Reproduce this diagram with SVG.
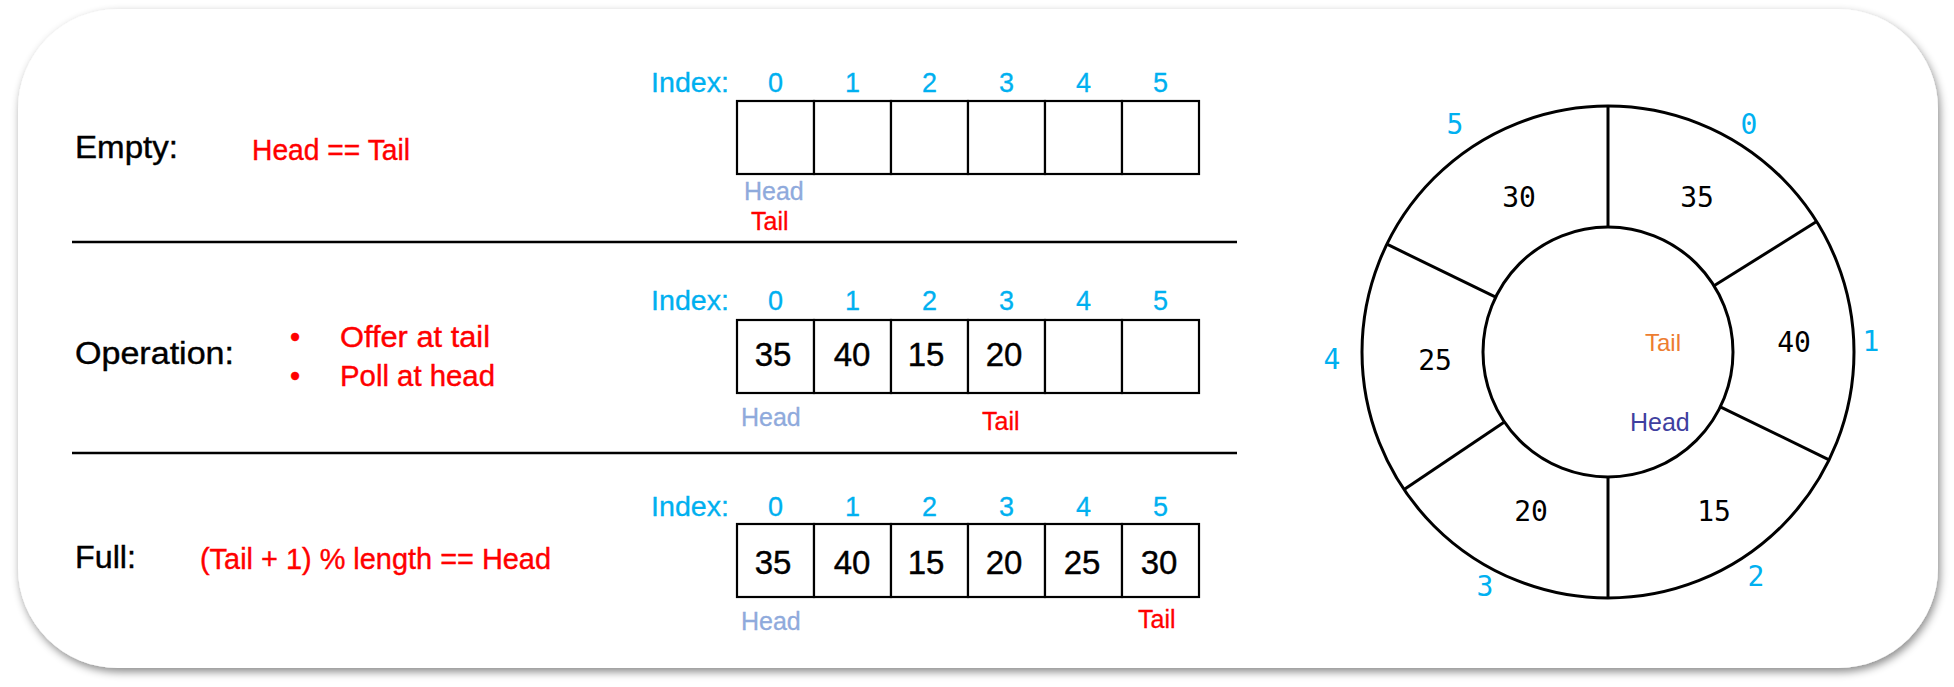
<svg xmlns="http://www.w3.org/2000/svg" width="1954" height="687" viewBox="0 0 1954 687">
<defs>
<filter id="sh" x="-5%" y="-5%" width="110%" height="115%">
<feDropShadow dx="2" dy="4" stdDeviation="4" flood-color="#000" flood-opacity="0.45"/>
</filter>
<style>
.lbl{font-family:"Liberation Sans",Arial,sans-serif;font-size:31px;fill:#000;stroke:#000;stroke-width:0.4}
.red{font-family:"Liberation Sans",Arial,sans-serif;font-size:29px;fill:#FF0000;stroke:#FF0000;stroke-width:0.4}
.idx{font-family:"Liberation Sans",Arial,sans-serif;font-size:27px;fill:#00B0F0;stroke:#00B0F0;stroke-width:0.3}
.val{font-family:"Liberation Sans",Arial,sans-serif;font-size:33px;fill:#000;text-anchor:middle;stroke:#000;stroke-width:0.4}
.hd{font-family:"Liberation Sans",Arial,sans-serif;font-size:25px;fill:#8FAADC;stroke:#8FAADC;stroke-width:0.3}
.tl{font-family:"Liberation Sans",Arial,sans-serif;font-size:25px;fill:#FF0000;stroke:#FF0000;stroke-width:0.3}
.cell{fill:#fff;stroke:#000;stroke-width:2.2}
.sep{stroke:#000;stroke-width:2.5}
.ring{fill:none;stroke:#000;stroke-width:3}
.mono{font-family:"DejaVu Sans Mono",monospace;font-size:28px;fill:#000;text-anchor:middle}
.cidx{font-family:"DejaVu Sans Mono",monospace;font-size:28px;fill:#00B0F0;text-anchor:middle}
</style>
</defs>
<rect id="frame" x="18" y="9" width="1920" height="659" rx="100" ry="100" fill="#fff" filter="url(#sh)"/>

<g id="row-empty">
<text class="lbl" x="75" y="158" textLength="103" lengthAdjust="spacingAndGlyphs">Empty:</text>
<text class="red" x="252" y="160" textLength="158" lengthAdjust="spacingAndGlyphs">Head == Tail</text>
</g>
<g id="row-operation">
<text class="lbl" x="75" y="364" textLength="159" lengthAdjust="spacingAndGlyphs">Operation:</text>
<text class="red" x="290" y="347">•</text>
<text class="red" x="340" y="347" textLength="150" lengthAdjust="spacingAndGlyphs">Offer at tail</text>
<text class="red" x="290" y="386">•</text>
<text class="red" x="340" y="386" textLength="155" lengthAdjust="spacingAndGlyphs">Poll at head</text>
</g>
<g id="row-full">
<text class="lbl" x="75" y="568" textLength="61" lengthAdjust="spacingAndGlyphs">Full:</text>
<text class="red" x="200" y="569" textLength="351" lengthAdjust="spacingAndGlyphs">(Tail + 1) % length == Head</text>
</g>

<g id="separators">
<line class="sep" x1="72" y1="242" x2="1237" y2="242"/>
<line class="sep" x1="72" y1="453" x2="1237" y2="453"/>
</g>

<g id="array-empty">
<text class="idx" x="651" y="92" textLength="78" lengthAdjust="spacingAndGlyphs">Index:</text>
<text class="idx" x="775.5" y="92" text-anchor="middle">0</text>
<text class="idx" x="852.5" y="92" text-anchor="middle">1</text>
<text class="idx" x="929.5" y="92" text-anchor="middle">2</text>
<text class="idx" x="1006.5" y="92" text-anchor="middle">3</text>
<text class="idx" x="1083.5" y="92" text-anchor="middle">4</text>
<text class="idx" x="1160.5" y="92" text-anchor="middle">5</text>
<rect class="cell" x="737" y="101" width="77" height="73"/>
<rect class="cell" x="814" y="101" width="77" height="73"/>
<rect class="cell" x="891" y="101" width="77" height="73"/>
<rect class="cell" x="968" y="101" width="77" height="73"/>
<rect class="cell" x="1045" y="101" width="77" height="73"/>
<rect class="cell" x="1122" y="101" width="77" height="73"/>
<text class="hd" x="744" y="200">Head</text>
<text class="tl" x="751" y="230">Tail</text>
</g>

<g id="array-operation">
<text class="idx" x="651" y="310" textLength="78" lengthAdjust="spacingAndGlyphs">Index:</text>
<text class="idx" x="775.5" y="310" text-anchor="middle">0</text>
<text class="idx" x="852.5" y="310" text-anchor="middle">1</text>
<text class="idx" x="929.5" y="310" text-anchor="middle">2</text>
<text class="idx" x="1006.5" y="310" text-anchor="middle">3</text>
<text class="idx" x="1083.5" y="310" text-anchor="middle">4</text>
<text class="idx" x="1160.5" y="310" text-anchor="middle">5</text>
<rect class="cell" x="737" y="320" width="77" height="73"/>
<rect class="cell" x="814" y="320" width="77" height="73"/>
<rect class="cell" x="891" y="320" width="77" height="73"/>
<rect class="cell" x="968" y="320" width="77" height="73"/>
<rect class="cell" x="1045" y="320" width="77" height="73"/>
<rect class="cell" x="1122" y="320" width="77" height="73"/>
<text class="val" x="773" y="366">35</text>
<text class="val" x="852" y="366">40</text>
<text class="val" x="926" y="366">15</text>
<text class="val" x="1004" y="366">20</text>
<text class="hd" x="741" y="426">Head</text>
<text class="tl" x="982" y="430">Tail</text>
</g>

<g id="array-full">
<text class="idx" x="651" y="516" textLength="78" lengthAdjust="spacingAndGlyphs">Index:</text>
<text class="idx" x="775.5" y="516" text-anchor="middle">0</text>
<text class="idx" x="852.5" y="516" text-anchor="middle">1</text>
<text class="idx" x="929.5" y="516" text-anchor="middle">2</text>
<text class="idx" x="1006.5" y="516" text-anchor="middle">3</text>
<text class="idx" x="1083.5" y="516" text-anchor="middle">4</text>
<text class="idx" x="1160.5" y="516" text-anchor="middle">5</text>
<rect class="cell" x="737" y="524" width="77" height="73"/>
<rect class="cell" x="814" y="524" width="77" height="73"/>
<rect class="cell" x="891" y="524" width="77" height="73"/>
<rect class="cell" x="968" y="524" width="77" height="73"/>
<rect class="cell" x="1045" y="524" width="77" height="73"/>
<rect class="cell" x="1122" y="524" width="77" height="73"/>
<text class="val" x="773" y="574">35</text>
<text class="val" x="852" y="574">40</text>
<text class="val" x="926" y="574">15</text>
<text class="val" x="1004" y="574">20</text>
<text class="val" x="1082" y="574">25</text>
<text class="val" x="1159" y="574">30</text>
<text class="hd" x="741" y="630">Head</text>
<text class="tl" x="1138" y="628">Tail</text>
</g>

<g id="ring">
<circle class="ring" cx="1608" cy="352" r="246"/>
<circle class="ring" cx="1608" cy="352" r="125"/>
<line class="ring" x1="1608" y1="106" x2="1608" y2="227"/>
<line class="ring" x1="1608" y1="477" x2="1608" y2="598"/>
<line class="ring" x1="1816.6" y1="221.6" x2="1714" y2="285.8"/>
<line class="ring" x1="1829.1" y1="459.8" x2="1720.3" y2="406.8"/>
<line class="ring" x1="1404.1" y1="489.6" x2="1504.4" y2="421.9"/>
<line class="ring" x1="1386.9" y1="244.2" x2="1495.7" y2="297.2"/>
</g>
<g id="ring-values">
<text class="mono" x="1519" y="207">30</text>
<text class="mono" x="1697" y="207">35</text>
<text class="mono" x="1794" y="352">40</text>
<text class="mono" x="1714" y="521">15</text>
<text class="mono" x="1531" y="521">20</text>
<text class="mono" x="1435" y="370">25</text>
</g>
<g id="ring-index">
<text class="cidx" x="1749" y="134">0</text>
<text class="cidx" x="1871" y="351">1</text>
<text class="cidx" x="1756" y="586">2</text>
<text class="cidx" x="1485" y="596">3</text>
<text class="cidx" x="1332" y="369">4</text>
<text class="cidx" x="1455" y="134">5</text>
</g>
<g id="ring-pointers">
<text x="1645" y="351" font-family="Liberation Sans,Arial,sans-serif" font-size="24" fill="#ED7D31">Tail</text>
<text x="1630" y="431" font-family="Liberation Sans,Arial,sans-serif" font-size="25" fill="#3F3F9F">Head</text>
</g>
</svg>
